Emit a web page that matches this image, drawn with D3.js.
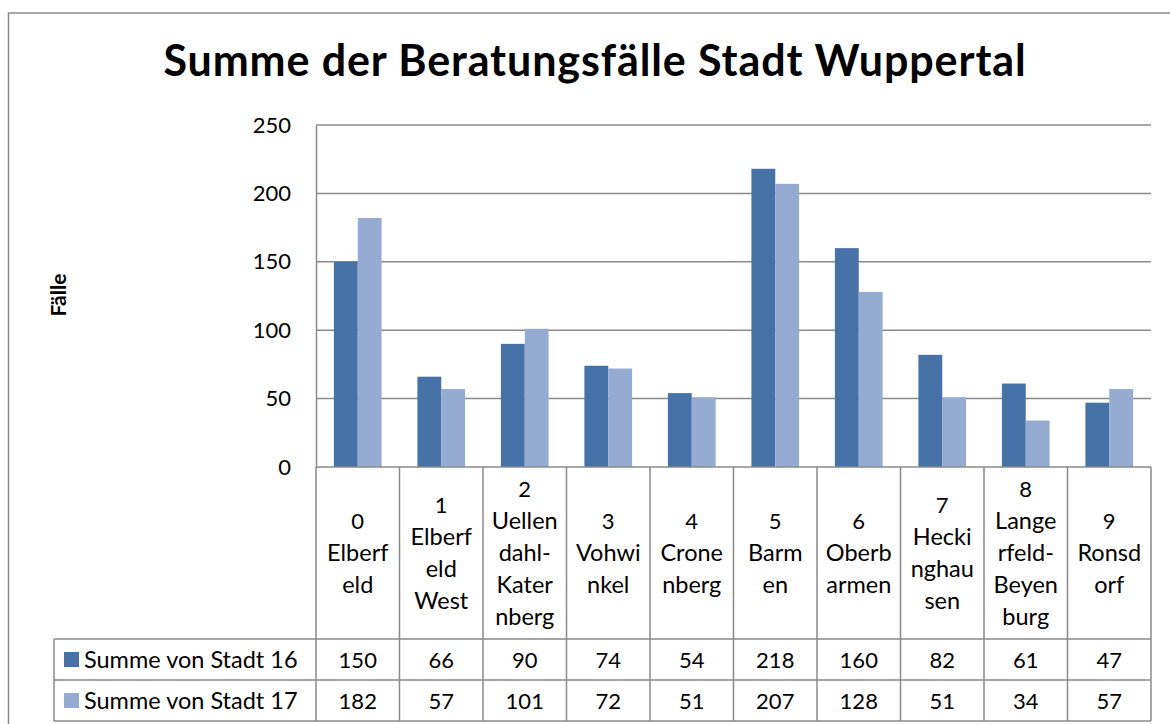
<!DOCTYPE html>
<html><head><meta charset="utf-8">
<script src="https://cdn.jsdelivr.net/npm/d3@7"></script>
<style>body{margin:0;background:#fff}svg{display:block}text{font-family:Lato,"Open Sans",sans-serif;fill:#000}</style>
</head><body><svg id="c" width="1170" height="724"></svg>
<script>
const titleText = "Summe der Beratungsfälle Stadt Wuppertal";
const yLabel = "Fälle";
const categories = [
  ["0","Elberf","eld"],
  ["1","Elberf","eld","West"],
  ["2","Uellen","dahl-","Kater","nberg"],
  ["3","Vohwi","nkel"],
  ["4","Crone","nberg"],
  ["5","Barm","en"],
  ["6","Oberb","armen"],
  ["7","Hecki","nghau","sen"],
  ["8","Lange","rfeld-","Beyen","burg"],
  ["9","Ronsd","orf"]
];
const seriesNames = ["Summe von Stadt 16","Summe von Stadt 17"];
const stadt16 = [150,66,90,74,54,218,160,82,61,47];
const stadt17 = [182,57,101,72,51,207,128,51,34,57];
const yTicks = [0,50,100,150,200,250];
const colors = ["#4672A8","#96ABD2"];

const series = [stadt16, stadt17];
const svg = d3.select("#c");
const L = 316, R = 1151, T = 125, B = 467;
const catBottom = 639, row1 = 680, row2 = 721, tableLeft = 54;
const lineCol = "#8a8a8a";
const txt = 23.5, num = 22;

// outer border
svg.append("rect").attr("x",8.5).attr("y",13).attr("width",1170).attr("height",720)
  .attr("fill","none").attr("stroke",lineCol).attr("stroke-width",1.5);

svg.append("text").attr("x",595).attr("y",76).attr("text-anchor","middle")
  .attr("font-size",43).attr("font-weight","bold").attr("letter-spacing",0.9).text(titleText);

const keys = categories.map((c,i)=>String(i));
const x = d3.scaleBand().domain(keys).range([L,R]).padding(0);
const y = d3.scaleLinear().domain([0,250]).range([B,T]);
const bw = x.bandwidth()/3.5;
const xs = d3.scaleBand().domain([0,1]).range([0.75*bw, 2.75*bw]).padding(0);

// gridlines
svg.append("g").selectAll("line").data(yTicks.filter(t=>t>0)).join("line")
  .attr("x1",L).attr("x2",R).attr("y1",d=>y(d)).attr("y2",d=>y(d))
  .attr("stroke",lineCol).attr("stroke-width",1.5);

// y axis
const ya = svg.append("g").attr("transform",`translate(${L},0)`)
  .call(d3.axisLeft(y).tickValues(yTicks).tickSize(0).tickPadding(25));
ya.select(".domain").attr("stroke",lineCol).attr("stroke-width",1.5);
ya.selectAll("text").attr("font-size",num).attr("font-family","Lato");

svg.append("text").attr("transform","translate(66,295) rotate(-90)")
  .attr("text-anchor","middle").attr("font-size",21).attr("font-weight","bold").text(yLabel);

// bars
series.forEach((s,si)=>{
  svg.append("g").selectAll("rect").data(s).join("rect")
    .attr("x",(d,i)=>x(keys[i])+xs(si)).attr("width",xs.bandwidth())
    .attr("y",d=>y(d)).attr("height",d=>y(0)-y(d)).attr("fill",colors[si]);
});

// table lines
const g = svg.append("g").attr("stroke",lineCol).attr("stroke-width",1.5);
g.append("line").attr("x1",L).attr("x2",R).attr("y1",B).attr("y2",B);
[catBottom,row1,row2].forEach(yy=>g.append("line").attr("x1",tableLeft).attr("x2",R).attr("y1",yy).attr("y2",yy));
keys.concat(["end"]).forEach((k,i)=>{
  const xx = k==="end" ? R : x(k);
  g.append("line").attr("x1",xx).attr("x2",xx).attr("y1",B).attr("y2",row2);
});
g.append("line").attr("x1",tableLeft).attr("x2",tableLeft).attr("y1",catBottom).attr("y2",row2);

// category labels
const lh = 32, catMid = (B+catBottom)/2;
categories.forEach((lines,i)=>{
  const t = svg.append("text").attr("text-anchor","middle").attr("font-size",txt);
  const cx = x(keys[i]) + x.bandwidth()/2;
  const start = catMid - (lines.length-1)*lh/2 + 8;
  lines.forEach((ln,j)=>t.append("tspan").attr("x",cx).attr("y",start+j*lh)
    .attr("font-size", /^\d+$/.test(ln) ? num : txt).text(ln));
});

// table rows
[[catBottom,row1],[row1,row2]].forEach(([a,b],si)=>{
  const mid = (a+b)/2 + 8;
  svg.append("rect").attr("x",64).attr("y",(a+b)/2-7.5).attr("width",15).attr("height",15).attr("fill",colors[si]);
  svg.append("text").attr("x",84).attr("y",mid).attr("font-size",txt).text(seriesNames[si]);
  series[si].forEach((v,i)=>{
    svg.append("text").attr("x",x(keys[i])+x.bandwidth()/2).attr("y",mid)
      .attr("text-anchor","middle").attr("font-size",num).text(v);
  });
});
</script></body></html>
